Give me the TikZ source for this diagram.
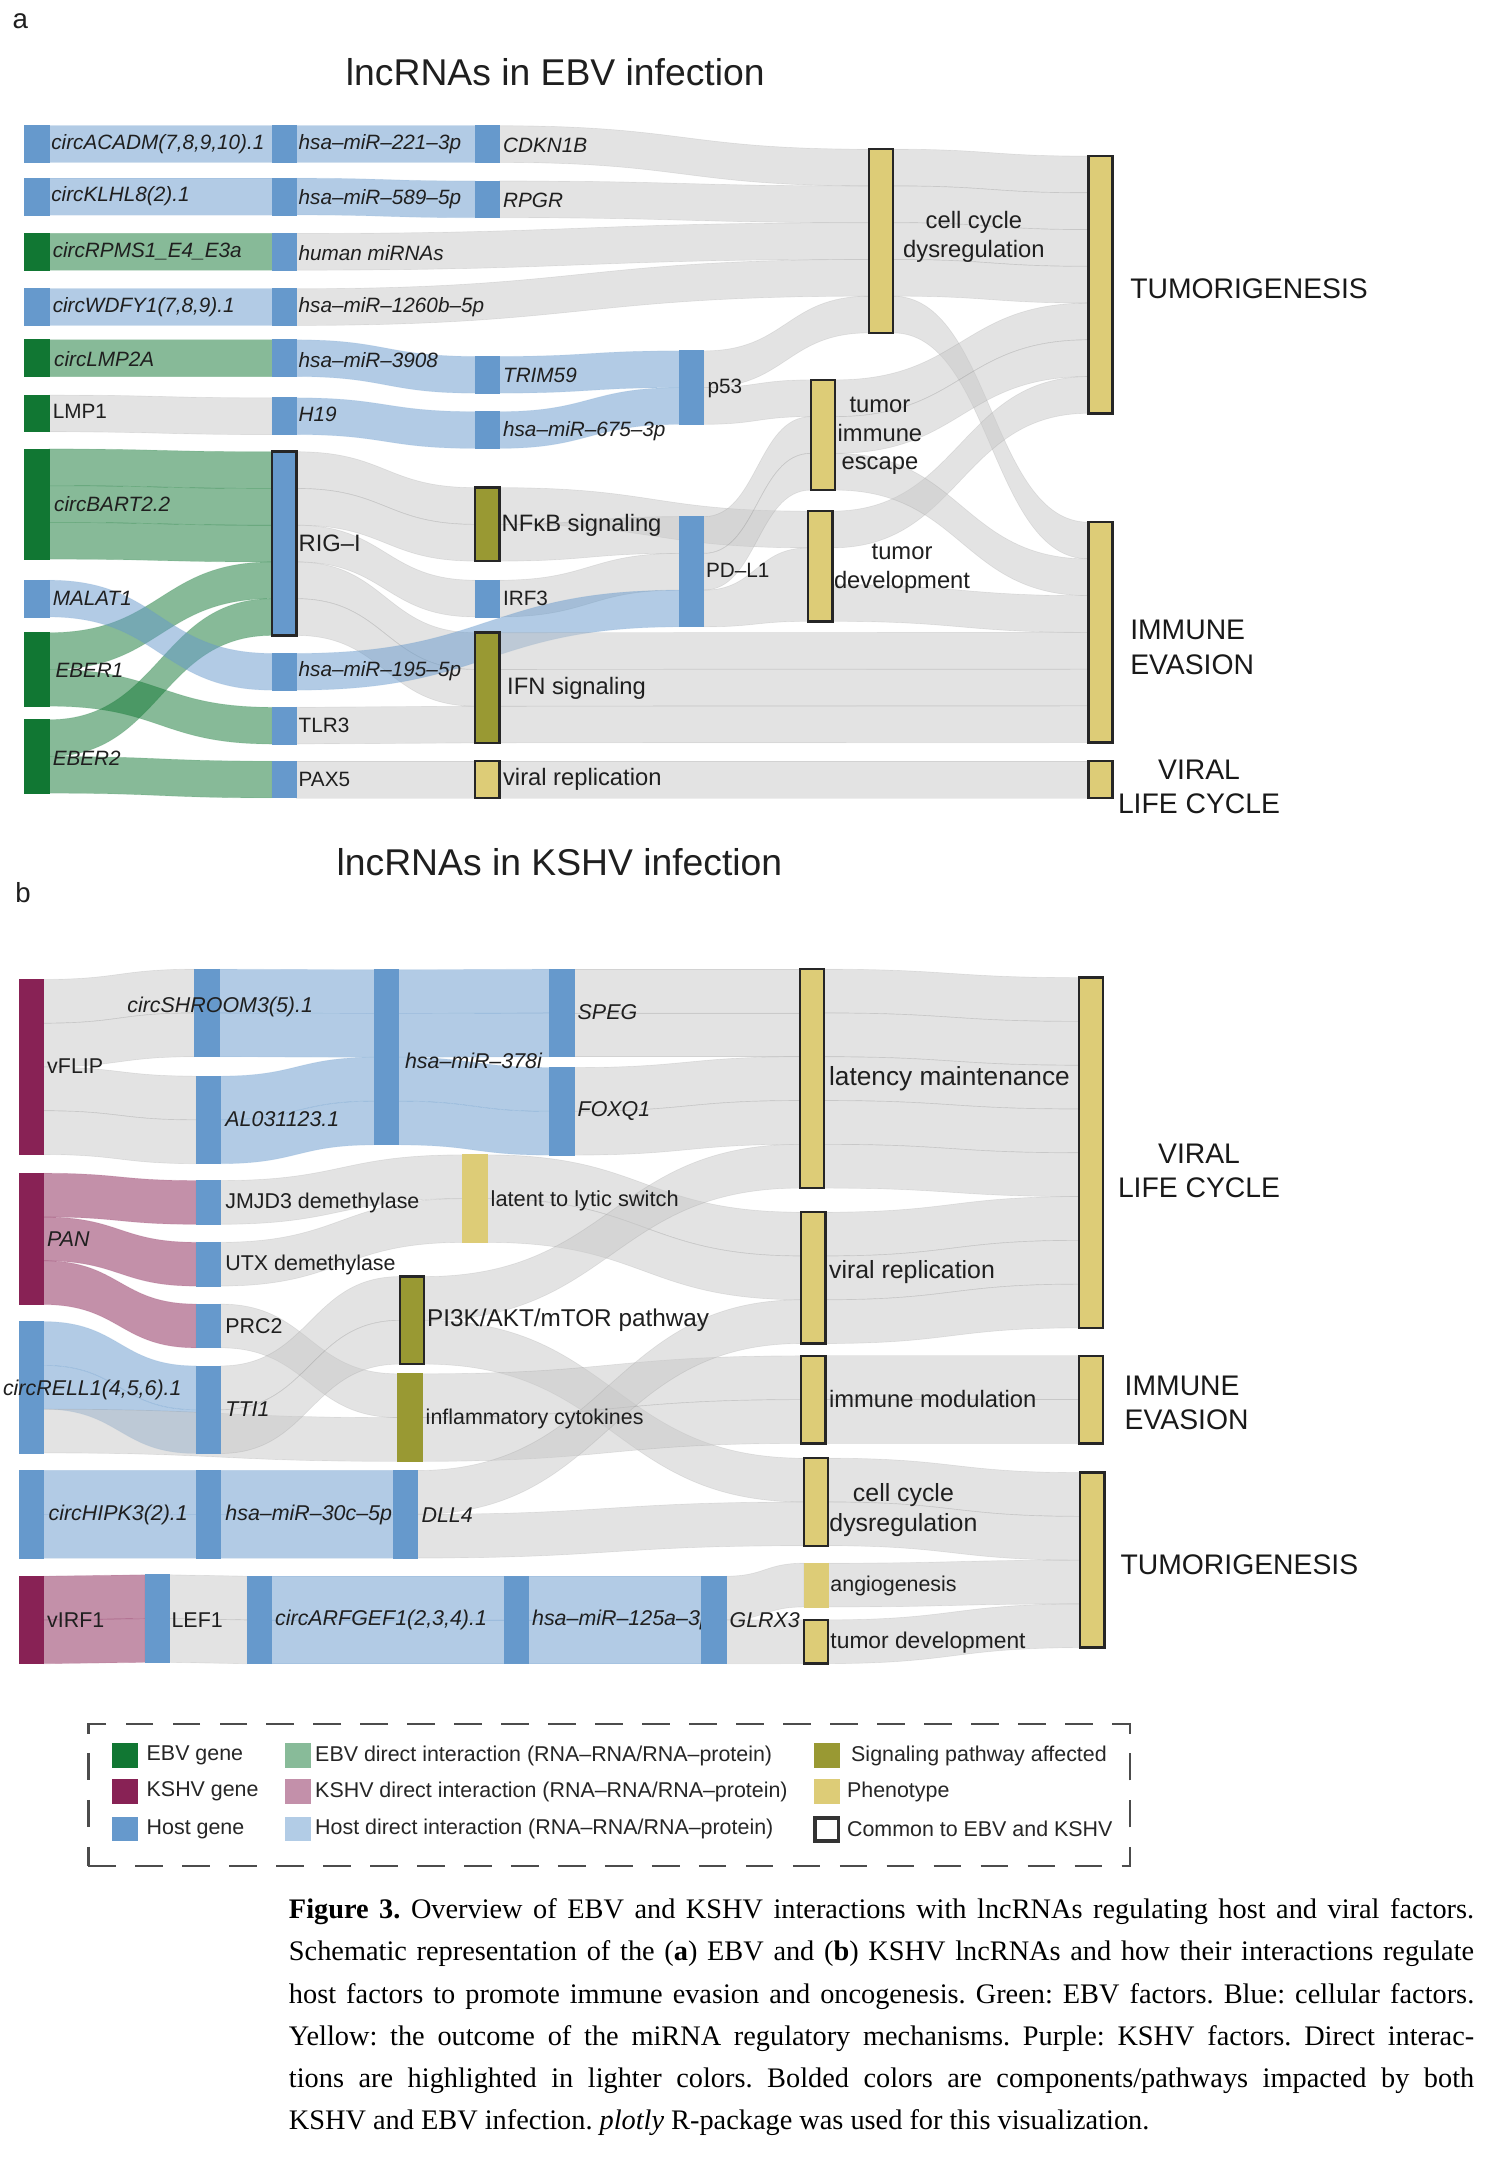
\documentclass[tikz,border=0pt]{standalone}
\usepackage{fontspec}
\newfontfamily\pf{Liberation Sans}
\newfontfamily\cf{Liberation Serif}
\usetikzlibrary{calc}
\pgfdeclarelayer{bg}
\pgfsetlayers{bg,main}
\frenchspacing
\definecolor{cEbv}{HTML}{117733}
\definecolor{cKshv}{HTML}{882255}
\definecolor{cHost}{HTML}{6699CC}
\definecolor{cOlv}{HTML}{999933}
\definecolor{cSand}{HTML}{DDCC77}
\definecolor{cLg}{RGB}{200,200,200}
\newcommand\slh{26.6}
\newcommand\mknode[5]{\node[#1, minimum height={#5*\slh*1pt}] (#2) at (#3,#4) {};}
\newcommand\sband[7]{%
  \path[#1] let \p1=($(#2.north east)+(0,#3)$), \p2=($(#5.north west)+(0,#6)$),
    \p3=($(#2.north east)+(0,#4)$), \p4=($(#5.north west)+(0,#7)$),
    \p5=($(\p1)!.5!(\p2)$) in
    (\p1) .. controls (\x5,\y1) and (\x5,\y2) .. (\p2) -- (\p4)
    .. controls (\x5,\y4) and (\x5,\y3) .. (\p3) -- cycle;}
\newcommand\slk[5]{\sband{#1}{#2}{{#3*\slh}}{{(#3+1)*\slh}}{#4}{{#5*\slh}}{{(#5+1)*\slh}}}
\tikzset{
  nd/.style={rectangle, inner sep=0pt, outer sep=0pt, minimum width=17.5pt, anchor=north west, line width=.6pt},
  ebvN/.style={nd, fill=cEbv, draw=cEbv},
  kshvN/.style={nd, fill=cKshv, draw=cKshv},
  hostN/.style={nd, fill=cHost, draw=cHost},
  oliveN/.style={nd, fill=cOlv, draw=cOlv},
  sandN/.style={nd, fill=cSand, draw=cSand},
  comN/.style={draw=black!85, line width=1.8pt},
  lkG/.style={fill=cLg, fill opacity=.5, draw=black, draw opacity=.07, line width=.5pt},
  lkE/.style={fill=cEbv, fill opacity=.5, draw=cEbv, draw opacity=.15, line width=.5pt},
  lkH/.style={fill=cHost, fill opacity=.5, draw=cHost, draw opacity=.15, line width=.5pt},
  lkK/.style={fill=cKshv, fill opacity=.5, draw=cKshv, draw opacity=.15, line width=.5pt},
  lab/.style={anchor=west, inner sep=0pt, text=black!88, font=\pf\fontsize{15}{18}\selectfont},
  ilab/.style={lab, font=\pf\itshape\fontsize{15}{18}\selectfont},
  ilabb/.style={lab, font=\pf\itshape\fontsize{15.5}{18}\selectfont},
  labb/.style={lab, font=\pf\fontsize{15.5}{18}\selectfont},
  mlab/.style={lab, font=\pf\fontsize{17.2}{21}\selectfont},
  clab/.style={inner sep=0pt, text=black!88, align=center, font=\pf\fontsize{17.2}{21}\selectfont},
  blab/.style={inner sep=0pt, text=black!90, font=\pf\fontsize{20.5}{25}\selectfont},
  ttl/.style={inner sep=0pt, text=black!88, font=\pf\fontsize{27}{32}\selectfont},
  swatch/.style={rectangle, inner sep=0pt, outer sep=0pt, minimum width=19pt, minimum height=18pt, anchor=north west},
  leg/.style={anchor=west, inner sep=0pt, text=black!85, font=\pf\fontsize{15.5}{18}\selectfont},
  capl/.style={anchor=base west, inner sep=0pt, text=black, font=\cf\fontsize{20.5}{24}\selectfont}
}
\begin{document}
\begin{tikzpicture}[x=1pt,y=-1pt]
\begin{pgfonlayer}{bg}
\fill[white] (0,0) rectangle (1090,1568);
\end{pgfonlayer}
\useasboundingbox (0,0) rectangle (1090,1568);

% ================= PANEL A =================
\renewcommand\slh{26.6}
\mknode{hostN}{acadm}{18}{91}{1}
\mknode{hostN}{klhl}{18}{129}{1}
\mknode{ebvN}{rpms}{18}{169}{1}
\mknode{hostN}{wdfy}{18}{209}{1}
\mknode{ebvN}{lmptwo}{18}{246}{1}
\mknode{ebvN}{lmpone}{18}{286}{1}
\mknode{ebvN}{bart}{18}{325}{3}
\mknode{hostN}{malat}{18}{420}{1}
\mknode{ebvN}{eberone}{18}{458}{2}
\mknode{ebvN}{ebertwo}{18}{521}{2}
\mknode{hostN}{mA}{197}{91}{1}
\mknode{hostN}{mB}{197}{129}{1}
\mknode{hostN}{hmir}{197}{169}{1}
\mknode{hostN}{mC}{197}{209}{1}
\mknode{hostN}{mD}{197}{246}{1}
\mknode{hostN}{hnine}{197}{288}{1}
\mknode{hostN,comN}{rigi}{197}{327}{5}
\mknode{hostN}{mE}{197}{473}{1}
\mknode{hostN}{tlr}{197}{512}{1}
\mknode{hostN}{pax}{197}{551}{1}
\mknode{hostN}{cdkn}{344}{91}{1}
\mknode{hostN}{rpgr}{344}{131}{1}
\mknode{hostN}{trim}{344}{258}{1}
\mknode{hostN}{mF}{344}{298}{1}
\mknode{oliveN,comN}{nfkb}{344}{353}{2}
\mknode{hostN}{irf}{344}{420}{1}
\mknode{oliveN,comN}{ifn}{344}{458}{3}
\mknode{sandN,comN}{vrA}{344}{551}{1}
\mknode{hostN}{pfs}{492}{254}{2}
\mknode{hostN}{pdl}{492}{374}{3}
\mknode{sandN,comN}{ccdA}{629}{108}{5}
\mknode{sandN,comN}{tie}{587}{275}{3}
\mknode{sandN,comN}{tdA}{585}{370}{3}
\mknode{sandN,comN}{tumA}{788}{113}{7}
\mknode{sandN,comN}{ieA}{788}{378}{6}
\mknode{sandN,comN}{vlcA}{788}{551}{1}

\begin{pgfonlayer}{bg}
\slk{lkH}{acadm}{0}{mA}{0}
\slk{lkH}{mA}{0}{cdkn}{0}
\slk{lkG}{cdkn}{0}{ccdA}{0}
\slk{lkH}{klhl}{0}{mB}{0}
\slk{lkH}{mB}{0}{rpgr}{0}
\slk{lkG}{rpgr}{0}{ccdA}{1}
\slk{lkE}{rpms}{0}{hmir}{0}
\slk{lkG}{hmir}{0}{ccdA}{2}
\slk{lkH}{wdfy}{0}{mC}{0}
\slk{lkG}{mC}{0}{ccdA}{3}
\slk{lkE}{lmptwo}{0}{mD}{0}
\slk{lkH}{mD}{0}{trim}{0}
\slk{lkH}{trim}{0}{pfs}{0}
\slk{lkG}{lmpone}{0}{hnine}{0}
\slk{lkH}{hnine}{0}{mF}{0}
\slk{lkH}{mF}{0}{pfs}{1}
\slk{lkG}{pfs}{0}{ccdA}{4}
\slk{lkG}{pfs}{1}{tie}{0}
\foreach \i in {0,...,3} {\slk{lkG}{ccdA}{\i}{tumA}{\i}}
\slk{lkG}{ccdA}{4}{ieA}{0}
\slk{lkG}{tie}{0}{tumA}{4}
\slk{lkG}{tie}{1}{tumA}{5}
\slk{lkG}{tdA}{0}{tumA}{6}
\slk{lkG}{tie}{2}{ieA}{1}
\slk{lkG}{tdA}{2}{ieA}{2}
\foreach \i in {0,1,2} {\slk{lkE}{bart}{\i}{rigi}{\i}}
\slk{lkE}{eberone}{0}{rigi}{3}
\slk{lkE}{eberone}{1}{tlr}{0}
\slk{lkE}{ebertwo}{0}{rigi}{4}
\slk{lkE}{ebertwo}{1}{pax}{0}
\slk{lkH}{malat}{0}{mE}{0}
\slk{lkG}{rigi}{0}{nfkb}{0}
\slk{lkG}{rigi}{1}{nfkb}{1}
\slk{lkG}{rigi}{2}{irf}{0}
\slk{lkG}{rigi}{3}{ifn}{0}
\slk{lkG}{rigi}{4}{ifn}{1}
\slk{lkG}{tlr}{0}{ifn}{2}
\slk{lkG}{pax}{0}{vrA}{0}
\slk{lkG}{vrA}{0}{vlcA}{0}
\slk{lkG}{nfkb}{0}{tdA}{0}
\slk{lkG}{nfkb}{1}{pdl}{0}
\slk{lkG}{irf}{0}{pdl}{1}
\slk{lkH}{mE}{0}{pdl}{2}
\slk{lkG}{pdl}{0}{tie}{1}
\slk{lkG}{pdl}{1}{tie}{2}
\sband{lkG}{pdl}{{2*\slh}}{{3*\slh}}{tdA}{{1*\slh}}{{3*\slh}}
\slk{lkG}{ifn}{0}{ieA}{3}
\slk{lkG}{ifn}{1}{ieA}{4}
\slk{lkG}{ifn}{2}{ieA}{5}
\end{pgfonlayer}

% labels panel a
\node[lab, font=\pf\fontsize{20}{24}\selectfont] (pa) at (9,15) {a};
\node[ttl] (titleA) at (402,52) {lncRNAs in EBV infection};
\node[ilab] (lacadm) at (37,104) {circACADM(7,8,9,10).1};
\node[ilab] (lklhl) at (37,142) {circKLHL8(2).1};
\node[ilab] (lrpms) at (38,182) {circRPMS1\_E4\_E3a};
\node[ilab] (lwdfy) at (38,222) {circWDFY1(7,8,9).1};
\node[ilab] (llmptwo) at (39,260) {circLMP2A};
\node[lab] (llmpone) at (38,298) {LMP1};
\node[ilab] (lbart) at (39,365) {circBART2.2};
\node[ilab] (lmalat) at (38,433) {MALAT1};
\node[ilab] (leberone) at (40,485) {EBER1};
\node[ilab] (lebertwo) at (38,549) {EBER2};
\node[ilab] (lmA) at (216,104) {hsa–miR–221–3p};
\node[ilab] (lmB) at (216,144) {hsa–miR–589–5p};
\node[ilab] (lhmir) at (216,183) {human miRNAs};
\node[ilab] (lmC) at (216,222) {hsa–miR–1260b–5p};
\node[ilab] (lmD) at (216,261) {hsa–miR–3908};
\node[ilab] (lhnine) at (216,300) {H19};
\node[mlab] (lrigi) at (216,393) {RIG–I};
\node[ilab] (lmE) at (216,486) {hsa–miR–195–5p};
\node[lab] (ltlr) at (216,525) {TLR3};
\node[lab] (lpax) at (216,564) {PAX5};
\node[ilab] (lcdkn) at (364,105) {CDKN1B};
\node[ilab] (lrpgr) at (364,145) {RPGR};
\node[ilab] (ltrim) at (364,272) {TRIM59};
\node[ilab] (lmF) at (364,312) {hsa–miR–675–3p};
\node[mlab] (lnfkb) at (363,380) {NFκB signaling};
\node[lab] (lirf) at (364,433) {IRF3};
\node[mlab] (lifn) at (367,498) {IFN signaling};
\node[mlab] (lvrA) at (364,564) {viral replication};
\node[lab] (lpfs) at (512,281) {p53};
\node[lab] (lpdl) at (511,413) {PD–L1};
\node[clab] (lccdA) at (705,171.5) {cell cycle\\dysregulation};
\node[clab, font=\pf\fontsize{17.2}{20.5}\selectfont] (ltie) at (637,315.5) {tumor\\immune\\escape};
\node[clab] (ltdA) at (653,411.5) {tumor\\development};
\node[blab, anchor=west] (ltumA) at (818,209) {TUMORIGENESIS};
\node[blab, anchor=west, align=left] (lieA) at (818,468.5) {IMMUNE\\EVASION};
\node[blab, align=center] (lvlcA) at (868,569.5) {VIRAL\\LIFE CYCLE};

% ================= PANEL B =================
\renewcommand\slh{31.7}
\mknode{kshvN}{vflip}{14}{709}{4}
\mknode{hostN}{shroom}{141}{701.6}{2}
\mknode{hostN}{al}{142}{779}{2}
\mknode{hostN}{mG}{271}{702}{4}
\mknode{hostN}{speg}{398}{701.6}{2}
\mknode{hostN}{foxq}{398}{772.8}{2}
\mknode{sandN,comN}{lm}{579}{701.6}{5}
\mknode{sandN,comN}{vlcB}{781}{707.7}{8}
\mknode{kshvN}{pan}{14}{849.3}{3}
\mknode{hostN}{jmjd}{142}{854.6}{1}
\mknode{hostN}{utx}{142}{899.3}{1}
\mknode{hostN}{prc}{142}{944}{1}
\mknode{sandN}{ll}{335}{836}{2}
\mknode{sandN,comN}{vrB}{580}{877.5}{3}
\mknode{oliveN,comN}{pik}{289.5}{924.1}{2}
\mknode{oliveN}{infl}{288}{994.5}{2}
\mknode{hostN}{rell}{14}{956.7}{3}
\mknode{hostN}{tti}{142}{988.8}{2}
\mknode{sandN,comN}{im}{580}{981.5}{2}
\mknode{sandN,comN}{ieB}{781}{981.5}{2}
\mknode{hostN}{hipk}{14}{1064.5}{2}
\mknode{hostN}{mH}{142}{1064.5}{2}
\mknode{hostN}{dll}{284.5}{1064.5}{2}
\mknode{sandN,comN}{ccb}{582}{1055.6}{2}
\mknode{sandN}{ang}{582}{1131.6}{1}
\mknode{sandN,comN}{tdB}{582}{1172.6}{1}
\mknode{sandN,comN}{tumB}{782}{1066}{4}
\mknode{kshvN}{virf}{14}{1141}{2}
\mknode{hostN}{lef}{105}{1140}{2}
\mknode{hostN}{arf}{179}{1141}{2}
\mknode{hostN}{mI}{365}{1141}{2}

\begin{pgfonlayer}{bg}
\slk{lkG}{vflip}{0}{shroom}{0}
\slk{lkG}{vflip}{1}{shroom}{1}
\slk{lkG}{vflip}{2}{al}{0}
\slk{lkG}{vflip}{3}{al}{1}
\slk{lkH}{shroom}{0}{mG}{0}
\slk{lkH}{shroom}{1}{mG}{1}
\slk{lkH}{al}{0}{mG}{2}
\slk{lkH}{al}{1}{mG}{3}
\slk{lkH}{mG}{0}{speg}{0}
\slk{lkH}{mG}{1}{speg}{1}
\slk{lkH}{mG}{2}{foxq}{0}
\slk{lkH}{mG}{3}{foxq}{1}
\slk{lkG}{speg}{0}{lm}{0}
\slk{lkG}{speg}{1}{lm}{1}
\slk{lkG}{foxq}{0}{lm}{2}
\slk{lkG}{foxq}{1}{lm}{3}
\foreach \i in {0,...,4} {\slk{lkG}{lm}{\i}{vlcB}{\i}}
\slk{lkG}{vrB}{0}{vlcB}{5}
\slk{lkG}{vrB}{1}{vlcB}{6}
\slk{lkG}{vrB}{2}{vlcB}{7}
\slk{lkK}{pan}{0}{jmjd}{0}
\slk{lkK}{pan}{1}{utx}{0}
\slk{lkK}{pan}{2}{prc}{0}
\slk{lkG}{jmjd}{0}{ll}{0}
\slk{lkG}{utx}{0}{ll}{1}
\slk{lkG}{ll}{0}{vrB}{0}
\slk{lkG}{ll}{1}{vrB}{1}
\slk{lkG}{pik}{0}{lm}{4}
\slk{lkG}{pik}{1}{ccb}{0}
\slk{lkG}{prc}{0}{infl}{0}
\slk{lkH}{rell}{0}{tti}{0}
\slk{lkH}{rell}{1}{tti}{1}
\slk{lkG}{rell}{2}{infl}{1}
\slk{lkG}{tti}{0}{pik}{0}
\slk{lkG}{tti}{1}{pik}{1}
\slk{lkG}{infl}{0}{im}{0}
\slk{lkG}{infl}{1}{im}{1}
\slk{lkG}{dll}{0}{vrB}{2}
\slk{lkG}{dll}{1}{ccb}{1}
\slk{lkG}{im}{0}{ieB}{0}
\slk{lkG}{im}{1}{ieB}{1}
\slk{lkG}{ccb}{0}{tumB}{0}
\slk{lkG}{ccb}{1}{tumB}{1}
\slk{lkG}{ang}{0}{tumB}{2}
\slk{lkG}{tdB}{0}{tumB}{3}
\slk{lkH}{hipk}{0}{mH}{0}
\slk{lkH}{hipk}{1}{mH}{1}
\slk{lkH}{mH}{0}{dll}{0}
\slk{lkH}{mH}{1}{dll}{1}
\slk{lkK}{virf}{0}{lef}{0}
\slk{lkK}{virf}{1}{lef}{1}
\slk{lkG}{lef}{0}{arf}{0}
\slk{lkG}{lef}{1}{arf}{1}
\slk{lkH}{arf}{0}{mI}{0}
\slk{lkH}{arf}{1}{mI}{1}
\end{pgfonlayer}
\mknode{hostN}{glrx}{508}{1141}{2}
\begin{pgfonlayer}{bg}
\slk{lkH}{mI}{0}{glrx}{0}
\slk{lkH}{mI}{1}{glrx}{1}
\slk{lkG}{glrx}{0}{ang}{0}
\slk{lkG}{glrx}{1}{tdB}{0}
\node[ilabb] (lmI) at (385,1173) {hsa–miR–125a–3p};
\end{pgfonlayer}

% labels panel b
\node[ttl] (titleB) at (405,624) {lncRNAs in KSHV infection};
\node[lab, font=\pf\fontsize{20}{24}\selectfont] (pb) at (11,646) {b};
\node[labb] (lvflip) at (34,772) {vFLIP};
\node[ilabb] (lshroom) at (92,729) {circSHROOM3(5).1};
\node[ilabb] (lal) at (163,810) {AL031123.1};
\node[ilabb] (lmG) at (293,768) {hsa–miR–378i};
\node[ilabb] (lspeg) at (418,733) {SPEG};
\node[ilabb] (lfoxq) at (418,804) {FOXQ1};
\node[lab, font=\pf\fontsize{19}{22}\selectfont] (llm) at (600,781) {latency maintenance};
\node[ilabb] (lpan) at (34,897) {PAN};
\node[labb] (ljmjd) at (163,871) {JMJD3 demethylase};
\node[labb] (lutx) at (163,916) {UTX demethylase};
\node[labb] (lprc) at (163,960) {PRC2};
\node[lab, font=\pf\fontsize{15.8}{18}\selectfont] (lll) at (355,869) {latent to lytic switch};
\node[lab, font=\pf\fontsize{18}{21}\selectfont] (lvrB) at (600,921) {viral replication};
\node[lab, font=\pf\fontsize{17.6}{21}\selectfont] (lpik) at (309,956) {PI3K/AKT/mTOR pathway};
\node[labb] (linfl) at (308,1027) {inflammatory cytokines};
\node[lab, font=\pf\fontsize{17.2}{21}\selectfont] (lim) at (600,1013) {immune modulation};
\node[ilabb] (lrell) at (2,1006) {circRELL1(4,5,6).1};
\node[ilabb] (ltti) at (163,1020) {TTI1};
\node[ilabb] (lhipk) at (35,1097) {circHIPK3(2).1};
\node[ilabb] (lmH) at (163,1097) {hsa–miR–30c–5p};
\node[ilabb] (ldll) at (305,1097) {DLL4};
\node[clab, font=\pf\fontsize{18}{22}\selectfont] (lccb) at (654,1093) {cell cycle\\dysregulation};
\node[labb] (lvirf) at (34,1173) {vIRF1};
\node[labb] (llef) at (124,1173) {LEF1};
\node[ilabb] (larf) at (199,1173) {circARFGEF1(2,3,4).1};
\node[ilabb] (lglrx) at (528,1173) {GLRX3};
\node[labb] (lang) at (601,1148) {angiogenesis};
\node[lab, font=\pf\fontsize{16.5}{19}\selectfont] (ltdB) at (601,1189) {tumor development};
\node[blab, align=center] (lvlcB) at (868,847.5) {VIRAL\\LIFE CYCLE};
\node[blab, anchor=west, align=left] (lieB) at (814,1015.5) {IMMUNE\\EVASION};
\node[blab, anchor=west] (ltumB) at (811,1133) {TUMORIGENESIS};

% ================= LEGEND =================
\node[draw=black!70, dash pattern=on 20pt off 14pt, line width=1.8pt, minimum width=754pt, minimum height=103pt, inner sep=0pt, anchor=north west] (legend) at (63,1247) {};
\node[swatch, fill=cEbv] (sw1) at (81,1262) {};
\node[swatch, fill=cKshv] (sw2) at (81,1288) {};
\node[swatch, fill=cHost] (sw3) at (81,1315) {};
\node[swatch, fill=cEbv!50] (sw4) at (206,1262) {};
\node[swatch, fill=cKshv!50] (sw5) at (206,1288) {};
\node[swatch, fill=cHost!50] (sw6) at (206,1315) {};
\node[swatch, fill=cOlv] (sw7) at (589,1262) {};
\node[swatch, fill=cSand] (sw8) at (589,1288) {};
\node[swatch, fill=white, draw=black!80, line width=2.8pt, minimum width=17pt, minimum height=17pt] (sw9) at (590,1316) {};
\node[leg] (tl1) at (106,1271) {EBV gene};
\node[leg] (tl2) at (106,1297) {KSHV gene};
\node[leg] (tl3) at (106,1324) {Host gene};
\node[leg] (tl4) at (228,1271) {EBV direct interaction (RNA–RNA/RNA–protein)};
\node[leg] (tl5) at (228,1297) {KSHV direct interaction (RNA–RNA/RNA–protein)};
\node[leg] (tl6) at (228,1324) {Host direct interaction (RNA–RNA/RNA–protein)};
\node[leg] (tl7) at (616,1271) {Signaling pathway affected};
\node[leg] (tl8) at (613,1297) {Phenotype};
\node[leg] (tl9) at (613,1324) {Common to EBV and KSHV};

% ================= CAPTION =================
\node[capl] (cap1) at (209,1389) {\makebox[858pt][s]{\textbf{Figure 3.} Overview of EBV and KSHV interactions with lncRNAs regulating host and viral factors.}};
\node[capl] (cap2) at (209,1419.5) {\makebox[858pt][s]{Schematic representation of the (\textbf{a}) EBV and (\textbf{b}) KSHV lncRNAs and how their interactions regulate}};
\node[capl] (cap3) at (209,1450) {\makebox[858pt][s]{host factors to promote immune evasion and oncogenesis. Green: EBV factors. Blue: cellular factors.}};
\node[capl] (cap4) at (209,1480.5) {\makebox[858pt][s]{Yellow: the outcome of the miRNA regulatory mechanisms. Purple: KSHV factors. Direct interac-}};
\node[capl] (cap5) at (209,1511) {\makebox[858pt][s]{tions are highlighted in lighter colors. Bolded colors are components/pathways impacted by both}};
\node[capl] (cap6) at (209,1541.5) {KSHV and EBV infection. \textit{plotly} R-package was used for this visualization.};
\end{tikzpicture}
\end{document}
